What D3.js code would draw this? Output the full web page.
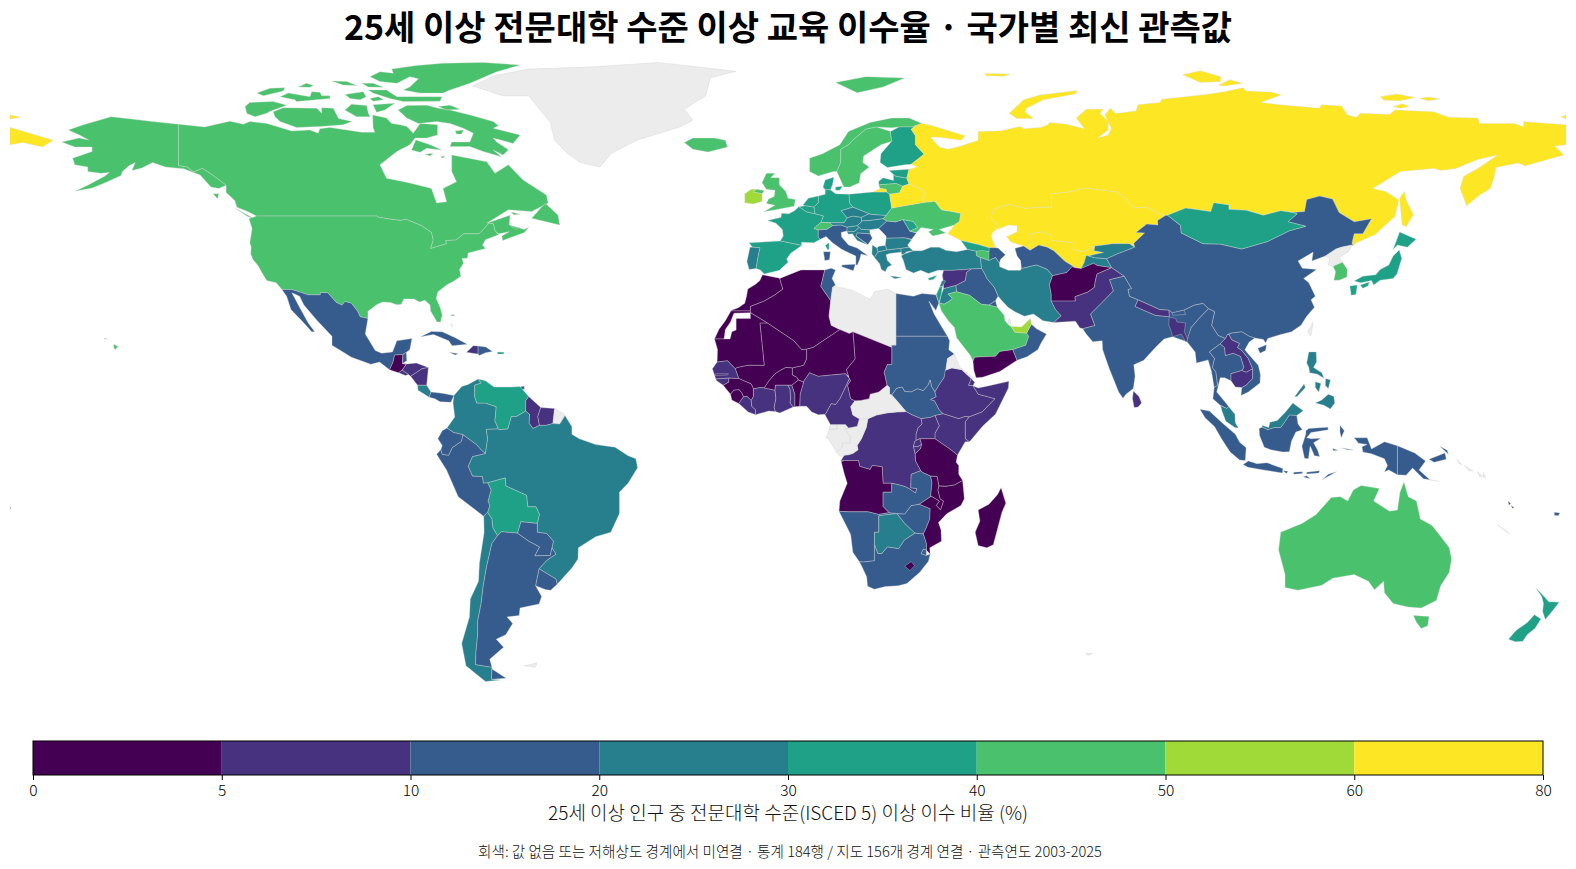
<!DOCTYPE html>
<html><head><meta charset="utf-8">
<script src="https://cdn.jsdelivr.net/npm/d3@7"></script>
<style>html,body{margin:0;padding:0;background:#fff}svg{display:block}text{font-family:"Noto Sans CJK KR","Noto Sans",sans-serif}</style>
</head><body><svg id="c" width="1576" height="869"></svg>
<script>
const titleText="25세 이상 전문대학 수준 이상 교육 이수율 · 국가별 최신 관측값";
const axisLabel="25세 이상 인구 중 전문대학 수준(ISCED 5) 이상 이수 비율 (%)";
const footText="회색: 값 없음 또는 저해상도 경계에서 미연결 · 통계 184행 / 지도 156개 경계 연결 · 관측연도 2003-2025";
const binTicks=[0,5,10,20,30,40,50,60,80];
const binColors=["#440154","#46327e","#365c8d","#277f8e","#1fa187","#4ac16d","#a0da39","#fde725"];
const noDataColor="#ececec";
const countryNames=[
"Greenland","Canada","USA","Iceland","Norway","Sweden","Finland","Denmark","Estonia","Latvia",
"Lithuania","Poland","Germany","Netherlands","Belgium","France","Spain","Portugal","Switzerland","Italy",
"Austria","Czechia","Slovakia","Hungary","Slovenia","Croatia","Bosnia","Romania","Moldova","Ukraine",
"Belarus","Russia","Kazakhstan","Uzbekistan","Turkmenistan","Kyrgyzstan","Tajikistan","Azerbaijan","Georgia","Armenia",
"Bulgaria","NMacedonia","Albania","Greece","UK","NIreland","Ireland","Cyprus","Turkey","Iran",
"Iraq","Syria","Jordan","Israel","Lebanon","SaudiArabia","Yemen","Oman","UAE","Qatar",
"Kuwait","Afghanistan","Pakistan","India","Nepal","Bhutan","Bangladesh","SriLanka","China","Mongolia",
"NKorea","SKorea","Japan","Taiwan","Myanmar","Thailand","Laos","Cambodia","Vietnam","Malaysia",
"Indonesia","Philippines","PNG","Solomon","Vanuatu","NewCaledonia","Fiji","Australia","NewZealand","Morocco",
"WSaharaStrip","Algeria","Tunisia","Libya","Egypt","Sudan","SouthSudan","Ethiopia","Eritrea","Djibouti",
"Somalia","Kenya","Uganda","Tanzania","Rwanda","Burundi","DRCongo","Congo","Gabon","EqGuinea",
"Cameroon","CAR","Chad","Niger","Nigeria","Mali","Mauritania","Senegal","Gambia","GuineaBissau",
"Guinea","SierraLeone","Liberia","CoteIvoire","BurkinaFaso","Ghana","Togo","Benin","Angola","Namibia",
"Botswana","Zimbabwe","Zambia","Malawi","Mozambique","SouthAfrica","Eswatini","Lesotho","Madagascar","Mexico",
"Guatemala","Belize","Honduras","ElSalvador","Nicaragua","CostaRica","Panama","Cuba","Jamaica","Haiti",
"DominicanRep","PuertoRico","Bahamas","Trinidad","Colombia","Venezuela","Guyana","Suriname","FrGuiana","Brazil",
"Uruguay","Paraguay","Bolivia","Peru","Ecuador","Chile","Argentina","Falkland","Kerguelen"];
const countryValues=[
null,47,47,45,45,45,38,35,35,35,
45,35,33,35,38,38,35,25,45,18,
28,25,25,27,28,25,15,16,32,45,
65,65,65,65,15,28,28,15,33,45,
26,25,25,27,45,45,55,35,24,25,
16,8,25,35,25,45,3,16,55,null,
18,3,8,15,8,15,9,8,17,35,
null,45,36,null,15,16,7,7,16,27,
15,28,15,null,8,null,12,45,35,4,
4,4,15,null,15,15,15,8,null,8,
8,8,8,3,8,8,7,null,null,null,
8,null,3,3,8,3,3,8,8,8,
3,3,7,7,3,8,7,3,3,15,
25,16,15,3,3,15,15,3,3,15,
3,15,8,8,8,25,15,15,15,8,
15,35,25,15,25,35,8,8,null,25,
15,15,35,15,15,25,15,null,null];
const countryShapes={
Greenland:"-73,78.2;-66,76;-60,76;-55,70;-54,66;-51,63;-48,61;-43.5,60;-41,63;-35,66;-25,69;-22,70.5;-24,73;-19,76;-18,80;-12,81.5;-30,83.5;-45,82.5;-60,82;-68,80.5",
Canada:"-141,69.6;-135,69;-129.1,70.3;-126,69.6;-124.5,70.2;-120.6,69.8;-114.8,68.1;-110.6,68.3;-108.7,67.6;-108.3,68.6;-106,68.9;-98.6,67.8;-95.6,67.8;-96,68.9;-96.1,71.7;-92.9,71;-91.7,69.8;-89.8,69.5;-88.2,69.1;-86.7,67.6;-85.1,69.8;-81.1,69.5;-81.1,67.2;-83.6,66.5;-86.3,66.5;-87.5,65;-90.5,63.5;-94.4,60.5;-92.9,57.5;-87.5,56.4;-82.5,55.2;-81.3,51.9;-79,52.2;-79.8,55.2;-76.7,56.7;-77.8,59;-77.8,62.7;-69.7,61.2;-67.8,58.6;-64.7,60.5;-61.3,57.1;-55.9,53.7;-55.5,51.9;-59.3,50;-64.7,50.4;-69.7,47.4;-64.3,49.2;-64.5,47;-61,46;-60,46.5;-61,45.3;-66,43.5;-66.2,44.5;-64.5,45.5;-67,45;-67.8,45.7;-68.2,47.3;-69.2,47.4;-70.3,46.2;-71.5,45;-75,45;-76.8,43.6;-79.2,43.5;-79,42.8;-82.7,41.7;-82.1,43.6;-82.5,45.3;-83.5,46;-84.9,46.9;-88.4,48.3;-89.6,48;-92,48.3;-94.6,48.7;-95.2,49;-123,49;-125,50;-127.5,51;-128,52.5;-130,54.3;-130,55.9;-133.4,58.4;-135.5,59.7;-137.5,58.9;-139,60;-141,60.3|-96.7,80.3;-94.4,81.4;-91.3,81.05;-91.7,82;-85.9,82.8;-79.8,83.3;-70.5,83.5;-62,82.9;-67.4,81.4;-73.6,78.8;-78.2,77.3;-79.8,76.6;-85.2,76.6;-89,77.3;-87.5,78;-85.5,79.8;-87.5,80.3;-90.5,78.8;-94.4,79.2|-97.1,77.3;-92.9,77.3;-90.5,75.8;-80.1,75.8;-80.5,74.8;-89,74.7;-92.1,75.4;-96,76.6|-122.9,76.6;-119.8,77.7;-116.4,77.8;-116.8,77.1;-121.4,76|-113.3,78;-111.4,78.8;-109.8,78.3;-110.6,77.9|-105.6,79.3;-102.1,79.2;-99.8,78.3;-102.9,78.4|-98.6,78.8;-96,78.8;-93.6,77.9;-97.1,78|-117.5,75.8;-115.6,76.6;-110.6,75.8;-110.2,76.9;-108.3,76.8;-107.9,76;-106,76;-106,75.4;-113.7,74.7;-114.1,75.1|-102.5,76.3;-98.3,76.9;-97.6,75.8;-99,75.1;-101.3,75.4|-96.7,75.4;-94.8,75.8;-93.6,75.1;-96,74.8|-125.6,73.6;-124.5,74.5;-119.1,74.7;-116,73.9;-119.8,72.5;-120.6,72.1;-123.3,71.3;-125.2,72|-119.1,72.4;-116.8,73.3;-109,73.2;-107.9,72.1;-107.9,73.3;-105.2,73.2;-104,70.9;-100.9,70.2;-102.9,69.5;-108.3,69.1;-113.7,68.9;-117.5,70.2;-118.7,71.3|-102.5,72.8;-101,74.1;-97.5,73.8;-97.1,72.1;-96.7,71.3;-99.8,71.3|-96,74;-91,74.3;-93.3,72.8;-95.2,72.3|-90.2,72.8;-88.2,73.8;-83.6,73.9;-80.9,73.2;-78.2,72.8;-73.6,71.7;-68.2,70.2;-67,69.3;-68.2,68.7;-62,67.2;-63.6,65.3;-68.2,66.5;-67.4,65.6;-64.7,63.9;-65.9,62.7;-68.2,63.8;-66.3,62.3;-70.5,63.5;-73.6,64.6;-78.2,64.6;-77.8,65.6;-73.6,65.6;-72.8,67.6;-75.1,68.7;-78.2,69.8;-81.3,70.2;-85.5,69.8;-88.2,71|-80.9,73.6;-78.2,73.9;-75.9,73;-79,72.8|-87.1,63.8;-86.1,66.1;-82.8,65;-80.1,63.8;-83.6,64.2;-85.1,63.3|-84,62.9;-82.1,63.1;-82.8,62.5|-80.4,62.3;-79.4,62.5;-79.8,62|-77,68.1;-75.1,68.3;-75.5,67.4;-76.7,67.4|-59.3,48.5;-56.2,51.9;-53.2,49.2;-52.8,47;-56.2,47.8|-128,50.8;-123.5,48.4;-125,48.9|-64,49.9;-62,49.4;-63.5,49.3|-64,46.6;-62,46.4;-63,46|-133,54;-131.7,54;-132,52.9",
USA:"-124.7,48.4;-123,49;-95.2,49;-94.6,48.7;-92,48.3;-89.6,48;-88.4,48.3;-84.9,46.9;-83.5,46;-82.5,45.3;-82.1,43.6;-82.7,41.7;-79,42.8;-79.2,43.5;-76.8,43.6;-75,45;-71.5,45;-70.3,46.2;-69.2,47.4;-68.2,47.3;-67.8,45.7;-67,44.8;-70,43.7;-70.7,42.5;-70,41.7;-74,40.7;-74.2,39.5;-75.4,39.5;-75.1,38.4;-76,37;-75.7,35.5;-77,34.6;-79,33.5;-81,32;-81.4,30.5;-80.5,28.5;-80,26.8;-80.4,25.2;-81.2,25.2;-81.8,26.2;-82.7,27.7;-82.8,29;-84,30.1;-85.3,29.7;-86.5,30.4;-88.9,30.4;-89.5,29.2;-90.5,29.1;-92,29.6;-93.8,29.7;-95,29.2;-97.2,27.6;-97.2,26;-99,26.4;-99.5,27.5;-101,29.4;-102.5,29.8;-103.2,29;-104.5,29.6;-106.5,31.8;-108.2,31.8;-108.2,31.3;-111,31.3;-114.8,32.5;-117.1,32.5;-118.4,34;-120.6,34.5;-121.9,36.6;-122.5,37.7;-123.8,39.3;-124.3,40.4;-124.2,42;-124.5,43;-124,46.2|-141,69.6;-141,60.3;-139,60;-137.5,58.9;-135.5,59.7;-133.4,58.4;-130,55.9;-131.7,55.2;-133.5,55.5;-136,58.2;-139.8,59.6;-144,60;-147,61;-149.5,59.8;-151.8,59.2;-151,61;-152.5,60.3;-154,59;-154.3,58.1;-158,56.5;-161,55.3;-164.8,54.6;-162,55.9;-158,58;-157,58.8;-159,58.6;-162,59;-162,60;-165,60.5;-165.5,62;-161,63.5;-161,64.5;-165,64.5;-168,65.6;-164,66.5;-161.8,66.1;-163.7,67.1;-166.5,68.3;-163,69.5;-156.6,71.3;-152,70.8;-147,70.2|-156,20.2;-155,19.7;-155.7,19;-156,19.6|-158.2,21.5;-157.7,21.3;-158,21.7",
Iceland:"-24,65.5;-22,64;-18.5,63.4;-14,64.5;-14.5,66;-17,66.5;-22,66.5",
Norway:"5,59;7,58;10.5,59;11.3,59;12.2,61;12.2,64;14,65;15,66;18,68.5;20.5,69;24,68.8;25.7,69;28.5,69;29.5,69.3;31,69.8;28,71;24,71;19,70;14,68;12,65;8,63;5,62|11,79;16,76.7;22,78;27,80;18,80.3",
Sweden:"11.3,59;12.9,55.5;14.3,55.5;16.5,56.5;16.8,58.5;18.8,60;17.3,61;17.5,62.5;21.5,65;24,65.8;23.7,68;20.5,69;18,68.5;15,66;14,65;12.2,64;12.2,61",
Finland:"24,65.8;21.5,63;21.3,61;23,59.9;27,60.5;28.5,60.6;31.5,62.9;29.5,65;29.5,67;28.5,68.5;29.5,69.3;28.5,69;25.7,69;23.7,68",
Denmark:"8.1,55.5;8.6,57.1;10.6,57.7;10.3,56;9.8,54.9;8.6,54.9|11,55.5;12.6,55.7;12,54.8;11,54.8",
Estonia:"23.4,59.2;28,59.5;27.5,57.5;25,57.9;24.4,58.3",
Latvia:"21,56.8;22,57.6;24.4,57;24.4,58.3;25,57.9;27.5,57.5;28,56.2;26.5,55.7;25,56.3;21,56",
Lithuania:"21,56;25,56.3;26.5,55.7;25.8,54.2;23.5,53.9;22.8,54.4;22.7,55;21.3,55.2",
Poland:"14.1,53.9;19.7,54.4;22.8,54.4;23.5,53.9;24,50.8;22.7,49.1;19,49.4;18.8,49.5;15,51;14.2,52",
Germany:"7,53.5;8.6,53.9;8.6,54.9;9.8,54.9;11,54;14.1,53.9;14.2,52;15,51;12.3,50.2;13.7,48.6;13,47.5;10,47.5;7.6,47.6;8.2,49;6.2,49.5;6,51;7,52",
Netherlands:"3.4,51.4;4.7,53;7,53.5;7,52;6,51;4,51.3",
Belgium:"2.5,51.1;4,51.3;6,51;6.2,49.5;4.3,49.9",
France:"2.5,51.1;4.3,49.9;6.2,49.5;8.2,49;7.6,47.6;6,46.2;7,45.9;7,44.2;7.5,43.8;6,43;3.1,43.1;3.2,42.4;-1.8,43.4;-1.1,44.5;-1.3,46;-2.8,47.4;-4.7,48;-1.6,48.7;-1.5,49.6;0.2,49.5;1.5,50.2|8.6,42.4;9.5,43;9.5,41.6;9.2,41.4",
Spain:"-9,43;-1.8,43.4;3.2,42.4;0.7,40.7;-0.3,39.4;0,38.6;-2,36.8;-5.5,36;-6.4,36.9;-7.4,37.2;-7,39.7;-6.5,41.9;-8.2,42",
Portugal:"-8.8,42;-8.2,42;-6.5,41.9;-7,39.7;-7.4,37.2;-9,37;-9.5,38.8",
Switzerland:"6,46.2;7.6,47.6;9.6,47.5;10.4,46.9;9,46;7,45.9",
Italy:"7,45.9;9,46;10.4,46.9;12.2,47;13.7,46.5;13.7,45.7;12.3,45.3;12.4,44.3;14,42.5;16,41.8;18.5,40.1;16.9,40.5;16.6,39.3;16,37.9;15.7,38.2;15.7,40;12.5,41.5;10.3,43;8.8,44.4;7.5,43.8;7,44.2|12.4,38;15.6,38.2;15.1,36.7;12.5,37.6|8.2,41;9.8,41;9.6,39.2;8.5,39",
Austria:"9.6,47.5;10,47.5;13,47.5;13.7,48.6;15,49;17,48.7;17,47.7;16,46.8;13.7,46.5;12.2,47;10.4,46.9",
Czechia:"12.3,50.2;15,51;18.8,49.5;17,48.7;15,49;13.7,48.6",
Slovakia:"17,48.7;18.8,49.5;19,49.4;22.7,49.1;22,48.4;19,48;17,47.9",
Hungary:"16,46.8;17,47.7;17,47.9;19,48;22,48.4;22.9,47.9;21,46.2;18.9,45.9;17,46",
Slovenia:"13.7,46.5;16,46.8;16.5,46.4;15.3,45.5;13.6,45.5",
Croatia:"13.6,45.5;15.3,45.5;16.5,46.4;17,46;18.9,45.9;19,45;16,45.2;15.8,44.5;18.5,42.5;16,43.5;14.9,45;14,44.9",
Bosnia:"16,45.2;19,45;19.5,44;18.5,42.6;15.8,44.5",
Romania:"21,46.2;22.9,47.9;24.9,47.7;26.6,48.2;28.2,45.6;29.7,45.2;28.6,43.8;27,44.1;22.7,44;22.7,44.5",
Moldova:"26.6,48.2;29,47.8;30,46.4;28.2,45.6",
Ukraine:"24,50.8;31,52;31.8,52.1;34,52.3;35.5,50.4;38,50;40,49.6;39.7,47.8;38.5,47;35,46;36.5,45.2;33.5,44.5;32.5,45.5;33.6,46;30.8,46.4;29.7,45.3;28.2,45.6;30,46.4;29,47.8;26.6,48.2;24.9,47.7;22.9,47.9;22,48.4;22.7,49.1",
Belarus:"23.5,53.9;25.8,54.2;26.5,55.7;28,56.2;31,55;32,53.8;31,53;31.8,52.1;31,52;24,50.8",
Russia:"31,69.8;33,69.4;41,67;40,66;35,66.7;33,66.7;35,64.5;37,64;40,64.7;44,66;44,68;49.06,68.1;53.7,69.1;54.6,68.6;58.4,68.9;60.1,69.5;60.5,70;64.4,69.6;68.6,68.6;66.7,71;69,73;72.9,73;72.2,72;74.1,70.2;74.1,68.3;71.6,66.5;74.1,67.2;74.8,68.7;73.3,71.7;74.6,73.2;75.8,72;80.5,72.6;81,74;86,74.5;86.5,75.2;96.7,76.3;100.9,76.9;105.2,77.8;106,77.1;112,76.8;114.1,76.2;109.4,74.5;113.7,74;123,73.2;123.4,74;128.1,73.7;129.4,71.7;131.5,71.2;132.4,72.1;139.2,71.8;140.4,72.8;149.4,72.4;152.8,71.2;159.6,71;160,69.8;168.1,69.8;170.2,69;170.2,70.2;180,69.5;180,65;177.4,64.7;179.5,62.7;170.6,60.3;168.9,60.9;163.8,59.9;163.4,57.9;162.5,55.2;160,53.7;157,51.3;155.5,55.2;156.3,57.9;159.6,59.7;164.2,62.7;159.6,61.7;154.5,59.7;151.1,59.2;149.4,59.7;141.7,59;135.3,55.2;138.3,54.5;141.3,52.6;140.4,48.9;135.8,44.8;131.5,43;130.7,42.3;130.5,43;131,45;133,45;135,48.4;131,47.7;127.5,49.8;126,52.8;123,53.5;120,52.7;119.5,50;116.7,49.8;114,50.2;110,49.2;106,50.3;102,50.5;102,51.5;98.5,52;97.8,50;92,50.8;87.8,49.2;87.3,49.1;85.5,49.6;83,51;80,50.8;77.8,53.3;76,54.4;71,55;69,55.3;65,54.4;61,54;61,51;58,51;55,50.7;51,51.6;47.5,50.5;47,48.5;49,46.5;47.5,45.5;47,44.5;48,41.9;46.5,41.9;44,42.6;40,43.5;37,45;38.5,47;39.7,47.8;40,49.6;38,50;35.5,50.4;34,52.3;31.8,52.1;31,53;32,53.8;31,55;28,56.2;27.5,57.5;28,59.5;30,60;28.5,60.6;31.5,62.9;29.5,65;29.5,67;28.5,68.5;29.5,69.3|-180,68.9;-177.5,68.2;-170,66;-172.5,64.5;-177,65.5;-180,65|-180,71.7;-177.5,71.2;-180,70.8|178.9,71.3;180,71.7;180,70.8|19.7,54.4;22.8,54.4;22.7,55;21.3,55.2|142.6,54.5;143,52.6;144.7,49.3;143,46.6;142.1,47;141.7,51;141.5,53|51.2,72.1;54.5,75.1;58.3,76.2;67,77.2;66.4,76.4;59.1,75.1;55.2,73.2;54.8,72.4;56.8,70.9;52.9,70.9|91.3,80.7;95.4,81.6;100.1,80.3;100.1,79.2;95.4,79|99.6,78.4;102.2,79.6;105.2,78.8;100.9,78.2|137,75.8;140.9,76.4;145.1,75.6;141.7,74.9;137.9,75|146.1,75.4;148.1,75.7;150.8,75.3;148.1,74.9|140,73.6;142.1,74.2;143.8,73.6;141.7,73.2|45.5,81;51.4,80.9;50,80.4;46,80.5",
Kazakhstan:"87.3,49.1;85.5,49.6;83,51;80,50.8;77.8,53.3;76,54.4;71,55;69,55.3;65,54.4;61,54;61,51;58,51;55,50.7;51,51.6;47.5,50.5;47,48.5;49,46.5;48.5,46;51,47;53,46.8;53,45.5;51,44.5;50.5,44.5;51.5,43.2;52.8,42.8;54.5,42.3;56,41.3;56,45;59,45.5;61,44.5;61,43.5;66,43;66,41.5;68,41;69,41.3;71,42.3;73,42.5;75,42.8;79,42.8;80.2,42;80,42.9;82.5,45.2;80.5,45.3;83,47.2;85.6,47;85.5,48",
Uzbekistan:"56,45;59,45.5;61,44.5;61,43.5;66,43;66,41.5;68,41;69,41.3;71,42.3;70.8,41.2;73,40.8;71,40.4;69.5,40;69,40.2;68.5,38.5;67.8,37.2;66.5,37.4;64,38.9;61.5,41.2;60,42;58,42.5;56,41.3",
Turkmenistan:"52.5,41.7;53,40;53.8,39;54,37.2;57.5,38;60,37;61.2,35.6;64.5,36.3;65.7,37.6;66.5,37.4;64,38.9;61.5,41.2;60,42;58,42.5;56,41.3;54.5,42.3;52.8,41.8",
Kyrgyzstan:"71,42.3;73,42.5;75,42.8;79,42.8;80.2,42;76,40.4;73.7,39.4;71,39.6;69.5,40;71,40.4;73,40.8;70.8,41.2",
Tajikistan:"69,40.2;69.5,40;71,39.6;73.7,39.4;74.9,37.4;71.5,37.9;70.7,38.4;67.8,37.2;68.5,38.5",
Azerbaijan:"46.5,41.9;48,41.9;48.6,41.8;50.3,40.3;49.2,39.3;48.9,38.4;48,39.7;46.5,39;45,40;46.5,41",
Georgia:"40,43.5;44,42.6;46.5,41.9;46.5,41;43.5,41.1;41.5,41.5",
Armenia:"43.5,41.1;45,41.3;46.5,41;46.5,39;44.5,39.7;43.6,40.1",
Bulgaria:"22.7,44;27,44.1;28.6,43.7;27.7,42.5;28,42;26.1,41.7;24,41.5;22.9,41.4;22.5,42.4",
NMacedonia:"21,42.2;22.5,42.4;22.9,41.4;20.8,40.9;20.6,41.8",
Albania:"19.5,42.5;20.6,41.8;20.8,40.9;20,39.7;19.4,40.5",
Greece:"20,39.7;20.8,40.9;22.9,41.4;24,41.5;26.1,41.7;26.3,40.9;23.5,40.6;22.7,40.3;23,39;24,38;23,37.5;22.5,36.5;21.6,37;21.2,38.3|23.6,35.6;26.3,35.2;24.7,34.9",
UK:"-5.5,50;-3.5,50.3;1.4,51.2;1.7,52.7;0,53;-0.5,54.5;-2,56;-2,57.6;-4,57.6;-3,58.6;-5,58.6;-6,56.5;-5,55;-3,54.8;-3.2,53.4;-4.5,52.8;-5,51.8;-3,51.4",
NIreland:"-7.3,55;-5.5,54.7;-6,54;-8,54.4",
Ireland:"-10,52;-10,54;-8.5,55;-7.3,55;-8,54.4;-6,54;-6,52.3;-8,51.7",
Cyprus:"32.3,35;34.5,35.7;33.7,34.8;32.8,34.6",
Turkey:"26.2,40;26.7,39;27.3,37;29,36.2;30.7,36.8;32.5,36.1;34.7,36.8;36,36.8;38,36.8;42.4,37.1;44.8,37.2;44.5,39.7;43.6,40.1;43.5,41.1;41.5,41.5;39,41;36.5,41.3;35,42;33,42;31,41.2;29,41.2;27.5,41|26.3,40.3;26.1,41.7;28,42;29,41.2",
Iran:"44.5,39.7;44.8,37.2;45.5,36;46,35;47.7,33;48.6,31;49.5,30;50.9,28.5;52.5,27.5;54.7,26.5;56.8,27;59,25.5;61.5,25.1;63.2,26.6;61.9,28;60.9,29.9;60.9,31.5;60.5,33.6;61.2,35.6;60,37;57.5,38;54,37.2;53.8,36.8;51,36.8;49,37.6;48.9,38.4;48,39.7;46.5,39",
Iraq:"39,32;42,31.2;44.7,29.2;46.5,29;48,30;48.6,31;47.7,33;46,35;45.5,36;44.8,37.2;42.4,37.1;41.3,36.4;41,34.5;38.8,33.4",
Syria:"35.7,35.7;36,36.8;38,36.8;42.4,37.1;41.3,36.4;41,34.5;38.8,33.4;36,32.7;35.9,34.5",
Jordan:"35,29.5;36.1,29.2;37.5,30;38,30.5;37,31.5;39,32;38.8,33.4;36,32.7;35.5,31.5",
Israel:"34.3,31.3;34.9,29.5;35.5,31.5;35.7,33.2;35.1,33.1",
Lebanon:"35.1,33.1;35.7,33.2;36.5,34.4;36,34.6;35.6,34.4",
SaudiArabia:"34.9,29.5;36.1,29.2;37.5,30;38,30.5;37,31.5;39,32;42,31.2;44.7,29.2;46.5,29;48.4,28.6;50,26.7;50.2,25.5;51,24.6;51.6,24.2;52.5,22.9;55.2,22.7;55.7,22;55,20;52,19;49,18.6;48,17.5;45.3,17.4;43.2,17.3;42.8,16.4;42.2,17.7;40.5,19.8;39,21.7;38.5,24;37,25.6;35.5,27.7",
Yemen:"42.8,16.4;43.2,17.3;45.3,17.4;48,17.5;49,18.6;52,19;53,16.6;49,14.1;45,12.8;43.5,12.7;43,14.4",
Oman:"52,19;55,20;55.7,22;55.2,22.7;56.3,24.7;57.5,23.7;59.8,22.5;58.5,20.4;57.8,19;55.3,17.4;53,16.6",
UAE:"51.6,24.2;54,24.1;56.1,26;56.3,24.7;55.2,22.7;52.5,22.9",
Qatar:"50.8,24.8;51.2,26.1;51.6,25;51.2,24.5",
Kuwait:"46.5,29;48,30;48.4,28.6",
Afghanistan:"61.2,35.6;60.5,33.6;60.9,31.5;60.9,29.9;66.5,29.9;66.4,30.9;69.3,31.9;70.9,33;71.1,34.4;71.5,36;74.9,37.4;71.5,37.9;70.7,38.4;67.8,37.2;66.5,37.4;65.7,37.6;64.5,36.3",
Pakistan:"61.5,25.1;66.5,25.4;67.5,23.9;68.2,23.7;71,24.4;70,27;73,29.9;75.3,32.2;74.4,34.7;77.8,35.5;74.9,37.4;71.5,36;71.1,34.4;70.9,33;69.3,31.9;66.4,30.9;66.5,29.9;60.9,29.9;61.9,28;63.2,26.6",
India:"68.2,23.7;69,22.5;70.5,20.8;72.7,21;72.8,19;74.3,14.8;76.5,9.5;77.5,8.1;78.2,9;79.9,10.3;80.3,13;80,15.6;82.3,16.6;85,19.5;87,21.4;89,21.9;92.3,20.8;93.3,24;95,25.9;97.3,28.2;96,29.4;94,29;91.6,27.9;88.9,27.3;88.1,27.9;88.2,26.4;85,26.7;80.3,28.7;81,30.2;79,31;78.7,32.5;79.5,32.7;77.8,35.5;74.4,34.7;75.3,32.2;73,29.9;70,27;71,24.4",
Nepal:"80.3,28.7;81,30.2;84,28.9;86,28;88.1,27.9;88.2,26.4;85,26.7",
Bhutan:"88.9,27.3;91.6,27.9;92,26.9;89,26.7",
Bangladesh:"88.1,24.5;88.2,26.3;89.7,26;90,25.2;92,25;91.7,23;92.6,21;92,20.8;91,22.5;89,21.9;88.7,23",
SriLanka:"79.9,9.7;81.2,8.5;81.8,7;81,6.1;80.1,6;79.7,8",
China:"73.7,39.4;74.9,37.4;77.8,35.5;79.5,32.7;78.7,32.5;79,31;81,30.2;84,28.9;86,28;88.1,27.9;88.9,27.3;91.6,27.9;94,29;96,29.4;97.3,28.2;98.7,27.5;98,24.5;99.5,22.2;101.2,21.5;101.7,22.4;102.5,22.7;105,23;106.7,22;108,21.6;110,21.3;110.5,20.5;111,21.5;114,22.4;116.5,23;118.7,24.5;120,26.5;121.8,28.5;121,30.2;122,31;120.5,34;119.3,35;122.3,37;119,37.3;118,38.9;121.5,40.9;121.2,38.9;124.3,40;126.8,41.6;128,42;130.5,42.5;130.7,42.3;130.5,43;131,45;133,45;135,48.4;131,47.7;127.5,49.8;126,52.8;123,53.5;120,52.7;119.5,50;116.7,49.8;117.8,49.5;116,48;115.7,47.7;119.8,46.7;116,45.7;111.8,43.7;111,43.3;105,41.6;100,42.7;96,42.8;91,45.2;90.8,46.9;87.8,49.2;87.3,49.1;85.5,48;85.6,47;83,47.2;80.5,45.3;82.5,45.2;80,42.9;80.2,42;76,40.4|108.7,19.3;110.7,20.1;110.5,18.8;109.2,18.2",
Mongolia:"87.8,49.2;92,50.8;97.8,50;98.5,52;102,51.5;102,50.5;106,50.3;110,49.2;114,50.2;116.7,49.8;117.8,49.5;116,48;115.7,47.7;119.8,46.7;116,45.7;111.8,43.7;111,43.3;105,41.6;100,42.7;96,42.8;91,45.2;90.8,46.9",
NKorea:"124.3,40;126.8,41.6;128,42;130.5,42.5;129.7,41;127.5,39.7;128.3,38.6;126.1,37.7;125,38;125.3,39.5",
SKorea:"126.1,37.7;128.3,38.6;129.4,37;129.3,35.3;127.5,34.6;126.3,34.6;126.7,36.5",
Japan:"131,34.4;133,35.5;136,35.8;137,37;139,38;140,40;141.4,41.4;142,39.5;140.9,36;140,35;137,34.6;135.5,33.5;135,34.5;132.5,34|140,41.5;141.5,45.4;145.3,43.8;143.3,42;141,42.5|130,33.3;131.7,33.5;131.4,31.4;130.3,31.2|132.4,33.5;134.5,34.2;134.2,33.3;133,32.8",
Taiwan:"121.5,25.2;121,22;120.2,23",
Myanmar:"92.3,20.8;94.2,18.5;94.5,16;97.2,16.7;98,14;98.6,10.5;99.4,11;99,14;98.2,15;98.7,17;97.5,18.5;100,20.3;101.2,21.5;99.5,22.2;98,24.5;98.7,27.5;97.3,28.2;95,25.9;93.3,24;92.6,22",
Thailand:"97.5,18.5;98.7,17;98.2,15;99,14;99.4,11;98.6,10.5;98.3,8;100,6.5;101.5,5.8;102,6.2;100.5,8;99.2,9.5;100,12.7;101,12.7;102.5,12;102.5,13.6;105,14.3;105.5,15;104.7,17.5;103,18.2;101.2,17.7;101,19.5;100,20.3",
Laos:"100,20.3;101,19.5;101.2,17.7;103,18.2;104.7,17.5;105.5,15;105,14.3;106,13.9;107.5,14.7;106.5,17;105,18.8;104,19.5;104.5,20.4;102.7,21.2;102,22.4;101.7,22.4;101.2,21.5",
Cambodia:"102.5,12;102.5,13.6;105,14.3;106,13.9;107.5,14.7;107.5,12.5;106,11;105,10.5;103.5,10.6",
Vietnam:"102,22.4;102.7,21.2;104.5,20.4;104,19.5;105,18.8;106.5,17;107.5,14.7;107.5,12.5;106,11;105,10.5;104.8,8.7;106.5,9.5;109.2,11.5;109.3,13.5;108.8,15.5;106.5,18;105.7,19;106.7,20.7;108,21.6;106.7,22;105,23;102.5,22.7",
Malaysia:"100.1,6.4;101.5,5.8;102,6.2;103.4,4.5;103.5,2.6;104.2,1.4;103.4,1.5;101.3,2.9;100.4,5.2|109.7,2;111.2,1.5;111.5,2.7;113.2,3.1;115,4.9;116.8,7;119.2,5.3;117.7,4.2;116,4.3;115,2.8;114,1.5;112.5,1.5;111,1;109.7,1.6",
Indonesia:"109,1.3;109.7,1.6;111,1;112.5,1.5;114,1.5;115,2.8;116,4.3;117.7,4.2;118,2.3;119,1;117.5,0.5;116.5,-1.5;116,-3.9;114.5,-4;111.7,-3.5;110.2,-2.9;109.1,-0.3|95.3,5.6;97.5,5.2;100.3,2.7;103.5,0;104.5,-1.8;106,-3;105.8,-5.9;104.5,-5.8;102.3,-4;100.3,-1;98.7,1.7;96.5,3.7|105.3,-6.8;106.5,-6;108.5,-6.6;110.8,-6.4;114.5,-7.7;114.4,-8.7;110,-8;106.4,-7.4|119.8,0.8;120.5,1.3;124.9,1.6;125,1;121,0.4;120,-0.8;121,-1;123.3,-0.9;121.6,-1.9;122.5,-3.5;123,-5;121.8,-4.8;121,-3;120.8,-2.7;120.4,-5.5;119.5,-5.4;118.9,-2.7;119.8,0|124,-10;126.9,-8.4;125,-9;123.5,-10.3|120,-8.5;123,-8.2;122.8,-8.7;120,-8.9|117,-8.5;119,-8.4;119,-8.8;117,-9|114.5,-8.2;115.7,-8.3;115.3,-8.8|119.2,-9.6;120.8,-10;120,-9.3|127.7,2;128.7,0.8;128,-0.8;127.7,0.5|128,-3.1;130.8,-3.5;129.5,-3.5|126,-3.2;127.2,-3.6;126.2,-3.7|131,-0.8;134,-0.8;135,-3.3;138,-1.7;141,-2.6;141,-9.1;139,-8;138,-8.4;138.7,-7;138,-5.5;135,-4.4;133,-4;132.8,-2.8;134,-2.3;132,-2",
Philippines:"120.5,18.5;122.2,18.5;122.3,16.3;121.6,15;123.5,13.8;124,12.6;122.5,13.5;120.7,13.8;120.5,15;120,16|122,7;123.5,7.7;125,9;126.3,8.5;126.5,7;125.5,5.7;124,6.5|117.2,8.4;119.4,11.3;119.7,10.5;117.8,8.5|122,11.8;123.3,11.4;122.8,9.5;122,10.5|124.4,12.5;125.5,12.2;125,10.2;124.3,11",
PNG:"141,-2.6;145,-4.2;147.5,-6;146,-8;148.5,-10.2;150.8,-10.6;147,-10;144.5,-7.6;143,-9.2;141,-9.1|148.3,-5.6;152,-4.2;152.3,-5.6;149.5,-6.3|150.8,-2.7;152.8,-4.5;152.5,-3.6",
Solomon:"154.7,-5.5;155.9,-6.8;155.2,-6.5|156.5,-7;158.5,-8.2;157.5,-8.2|159.5,-8.4;161,-9.6;160,-9.5|160.8,-8.6;161.5,-9.8;161,-9.6",
Vanuatu:"166.6,-15;167.2,-15.6;166.8,-15.9|167.3,-16;168,-16.5;167.6,-16.6",
NewCaledonia:"164,-20.2;167,-22.3;166,-21.8",
Fiji:"177.3,-17.5;178.6,-17.7;178.2,-18.3;177.3,-18.2|-180,-16.2;-179.8,-16.7;-180,-16.8",
Australia:"114,-22;113.5,-26;115,-31.5;115,-34.4;118,-35;123.5,-33.9;126,-32.3;131,-31.5;134.3,-33;135.7,-34.9;137.8,-33;138,-35.6;140,-38;143.5,-38.8;146.5,-39;150,-37.3;151,-34;153,-31;153.5,-28;153,-25.5;150.8,-22.7;149,-20.5;146.3,-19;145.4,-15;143.5,-14;142.5,-10.7;141.6,-13;141,-17;139.2,-17.3;135.5,-15;136.8,-12.2;132.6,-11.5;130.8,-12.5;129.5,-15;127.8,-14;125.7,-14.2;122.2,-18;119,-20|144.7,-40.7;148.3,-40.9;148,-43;146.5,-43.6;145.4,-42.2",
NewZealand:"172.7,-40.5;174.2,-41.5;172.8,-43.6;171,-45;170,-46.5;168.3,-46.6;166.7,-46;168.5,-44;171,-42.3|173,-34.5;175,-36.5;176,-37.6;178.4,-37.7;177,-39.5;175.2,-41.6;174.6,-39.8;174.8,-38;174.4,-36.5",
Morocco:"-5.9,35.8;-2.2,35.1;-1.9,35;-1.2,32.6;-3,31.3;-5.5,29.9;-8.7,28.7;-8.7,27.7;-13.2,27.7;-12.9,27.9;-11.5,28.4;-10,29.4;-9.6,31;-9.3,32.6;-7.5,33.7;-6.5,34.5",
WSaharaStrip:"-13.2,27.7;-8.7,27.7;-8.7,27.3;-12.5,27.2;-13.3,25.2;-14.5,23.5;-14.8,21.4;-17,21.4;-16,23.5;-14.5,25.5",
Algeria:"-1.9,35;-1.2,32.6;-3,31.3;-5.5,29.9;-8.7,28.7;-8.7,27.3;-4.8,25;1.2,21.1;3.2,19;4.3,19.1;5.8,19.5;12,23.5;10,24.5;9.5,26.5;9.9,30;7.6,33.2;8.5,36.9;3,36.9",
Tunisia:"8.5,36.9;10,37.3;11,36.9;10.2,35;11,33.5;10.3,33;9.9,30;7.6,33.2",
Libya:"9.9,30;10.3,33;11.5,33.1;15,32.3;19,30.3;20,32;23,32.6;25,31.6;25,22;25,20;24,20;24,19.5;15,23;14.2,22.6;12,23.5;10,24.5;9.5,26.5",
Egypt:"25,31.6;29,31;31,31.6;34.2,31.3;34.9,29.5;34.2,27.8;32.6,29.9;33.8,27;35.7,23.9;36.9,22;25,22",
Sudan:"25,22;36.9,22;37.4,21;37.2,19;38.5,18;36.9,17;36.5,14.3;36.1,12.7;34.9,11;34,9.5;33.2,10.7;32.9,12.2;32.4,11;31.3,9.8;30,10.2;28.5,9.5;27,9.6;26.4,10.6;25.1,10.3;24,8.8;23.5,9;23.5,10.5;22.9,11;22.4,13.2;22.2,13.9;23,15.7;24,15.7;24,20;25,20",
SouthSudan:"34,9.5;33.2,10.7;32.9,12.2;32.4,11;31.3,9.8;30,10.2;28.5,9.5;27,9.6;26.4,10.6;25.1,10.3;24,8.8;25.2,7.5;27.3,5.1;28.6,4.4;30.8,3.5;33,3.8;34,4.2;35.9,4.6;35,5.5;33.9,7.5;33,7.8;34.3,8.4",
Ethiopia:"36.4,14.4;37.9,14.9;40.2,14.5;42.4,12.5;41.8,11;42.8,10.9;44,9;47.9,8;44.9,5;41.9,3.9;41,4;39.5,3.5;35.9,4.6;35,5.5;33.9,7.5;33,7.8;34.3,8.4;34,9.5;34.9,11;36.1,12.7",
Eritrea:"36.4,14.4;36.5,14.3;36.9,17;38.5,18;39.7,15.1;43,12.6;42.4,12.5;40.2,14.5;37.9,14.9",
Djibouti:"41.8,11;42.4,12.5;43.2,11.7;42.8,10.9",
Somalia:"42.8,10.9;44,10.4;46,10.8;51.1,11.9;51,10.4;48,4.5;45,1.8;42,-1.7;41,-1;41,2.8;41.9,3.9;44.9,5;47.9,8;44,9",
Kenya:"41,-1;42,-1.7;41,-1.7;39.2,-4.7;37.7,-3.5;34,-1;34,0.2;35,1.9;34,4.2;35.9,4.6;39.5,3.5;41,4;41.9,3.9;41,2.8",
Uganda:"34,-1;30.5,-1;29.6,-1.4;29.6,0;30.1,1.5;31,2.3;30.8,3.5;33,3.8;34,4.2;35,1.9;34,0.2",
Tanzania:"30.5,-1;34,-1;37.7,-3.5;39.2,-4.7;38.9,-6.3;39.5,-7;39.5,-9;40.4,-10.4;38.5,-11.4;36.5,-11.7;34.9,-11.6;34.5,-9.5;33,-9.4;31.2,-8.6;30.7,-8.2;29.5,-6;29.4,-4.4;30.6,-3.3;30.9,-2.3",
Rwanda:"29.6,-1.4;30.5,-1;30.9,-2.3;30,-2.8;29,-2.7;29.3,-1.6",
Burundi:"30,-2.8;30.9,-2.3;30.6,-3.3;29.4,-4.4;29,-2.7",
DRCongo:"12.2,-6;13.1,-5.9;16.3,-5.9;16.6,-7.2;19,-7.9;19.5,-7;21.8,-7.3;21.9,-9.5;22,-11;24,-11;25.4,-11.3;27,-11.7;28,-12.2;29.5,-13.2;29.8,-12.2;28.4,-12;28.5,-9;30.7,-8.2;29.5,-6;29.4,-4.4;29,-2.7;29.3,-1.6;29.6,-1.4;29.6,0;30.1,1.5;31,2.3;30.8,3.5;28.6,4.4;27.3,5.1;25.2,5;22.9,4.8;20.5,4.3;18.5,3.5;18.1,1.5;17,-1;16,-2.5;16.2,-3.5;15,-4.3;14,-4.6;13,-4.7",
Congo:"11.2,-4;12,-5;13,-4.7;14,-4.6;15,-4.3;16.2,-3.5;16,-2.5;17,-1;18.1,1.5;18.5,3.5;16.5,3.5;16,1.8;14,1.4;13.2,1.2;14.4,-0.5;14.4,-2;12.5,-1.9;12.5,-3",
Gabon:"9.3,-1;8.8,-0.7;9.5,0.9;9.8,1.1;11.3,1.1;11.3,2.2;13.3,2.2;14,1.4;13.2,1.2;14.4,-0.5;14.4,-2;12.5,-1.9;12.5,-3;11.2,-4",
EqGuinea:"9.5,1;9.8,2.2;11.3,2.2;11.3,1.1;9.8,1.1",
Cameroon:"8.5,4.5;9.8,2.2;11.3,2.2;13.3,2.2;14,1.4;16,1.8;16.5,3.5;15,4.3;14.5,6.2;15.5,7.5;14.5,8;13.8,11;14.5,12;14.2,12.5;13,10;12,8;11,6.7;10,6.9;8.7,4.6",
CAR:"14.5,6.2;15,4.3;16.5,3.5;18.5,3.5;20.5,4.3;22.9,4.8;25.2,5;27.3,5.1;25.2,7.5;24,8.8;23.5,9;23.5,10.5;22.9,11;21,9.5;19,9;18.8,8;16.8,7.6;15.5,7.5",
Chad:"14,13;13.5,14.5;15.5,16.9;15.2,21;15,23;24,19.5;24,15.7;23,15.7;22.2,13.9;22.4,13.2;22.9,11;21,9.5;19,9;18.8,8;16.8,7.6;15.5,7.5;14.5,8;13.8,11;14.5,12;14.2,12.5",
Niger:"15,23;15.2,21;15.5,16.9;13.5,14.5;14,13;13.3,13.6;10,13.3;7,13;5,13.8;3.7,12;3.6,11.7;2.4,12.2;2,12.8;1,13.3;1,14.9;3.6,15.5;4.3,16.9;4.3,19.1;5.8,19.5;12,23.5;14.2,22.6",
Nigeria:"2.7,6.3;2.8,9;3.6,11.7;3.7,12;5,13.8;7,13;10,13.3;13.3,13.6;14.2,12.5;13,10;12,8;11,6.7;10,6.9;8.7,4.6;8.5,4.5;7,4.4;5.5,5;4.3,6.3",
Mali:"-4.8,25;-6.5,25;-5.5,15.5;-9.3,15.5;-11.8,15;-12.2,14.7;-11.4,12.5;-8.5,11.3;-8,10.2;-6.3,10.5;-5.5,10.4;-4.4,12;-3,13.6;-2,14.2;-0.5,15;1,14.9;3.6,15.5;4.3,16.9;4.3,19.1;3.2,19;1.2,21.1",
Mauritania:"-17,21.4;-13.4,21.4;-13,23;-12,23.4;-12,26;-8.7,26;-8.7,27.3;-4.8,25;-6.5,25;-5.5,15.5;-9.3,15.5;-11.8,15;-12.2,14.7;-14,16.5;-16.4,16.2;-16.3,19",
Senegal:"-16.4,16.2;-14,16.5;-12.2,14.7;-11.4,12.5;-13.7,12.6;-16.7,12.4;-17.5,14.7",
Gambia:"-16.8,13.6;-13.8,13.6;-14,13.3;-16.8,13.2",
GuineaBissau:"-16.7,12.4;-13.7,12.6;-13.7,11.7;-15,11;-16.5,12",
Guinea:"-13.7,12.6;-11.4,12.5;-8.5,11.3;-8,10.2;-8,8.5;-8.5,7.6;-9.5,8.5;-10.3,8.4;-10.7,9.3;-11.3,10;-12.5,9.9;-13.3,9;-15,11;-13.7,11.7",
SierraLeone:"-13.3,9;-12.5,9.9;-11.3,10;-10.7,9.3;-10.3,8.4;-11.4,6.9;-13,7.7",
Liberia:"-11.4,6.9;-10.3,8.4;-9.5,8.5;-8.5,7.6;-8.4,6.3;-7.5,5.5;-7.5,4.4;-9.2,5",
CoteIvoire:"-8.5,7.6;-8,8.5;-8,10.2;-6.3,10.5;-5.5,10.4;-3,9.9;-2.8,8;-3.2,6;-2.9,5.1;-4.5,5.2;-7.5,4.4;-7.5,5.5;-8.4,6.3",
BurkinaFaso:"-5.5,10.4;-4.4,12;-3,13.6;-2,14.2;-0.5,15;1,14.9;1,13.3;2,12.8;2.4,12.2;0.9,11;-2.9,11;-3,9.9",
Ghana:"-3,9.9;-2.9,11;0,11;0.5,10;0.6,8.2;0.5,7;1.2,6.1;-1.9,4.8;-2.9,5.1;-3.2,6;-2.8,8",
Togo:"0,11;0.9,11;1.6,9;1.6,6.2;1.2,6.1;0.5,7;0.6,8.2;0.5,10",
Benin:"0.9,11;2.4,12.2;3.6,11.7;2.8,9;2.7,6.3;1.6,6.2;1.6,9",
Angola:"12.3,-6.1;13.1,-5.9;16.3,-5.9;16.6,-7.2;19,-7.9;19.5,-7;21.8,-7.3;21.9,-9.5;22,-11;24,-11;24,-13;22,-13;22,-16.2;23.4,-17.6;21,-18;18.5,-17.4;14,-17.4;11.8,-17.3;12,-15;13.7,-11;13,-8.8",
Namibia:"11.8,-17.3;14,-17.4;18.5,-17.4;21,-18;23.4,-17.6;25.2,-17.8;23.3,-18;21,-18.3;21,-22;20,-22;20,-28.4;17.4,-28.7;16.5,-28.6;15,-26.5;14.5,-22.5",
Botswana:"20,-22;21,-22;21,-18.3;23.3,-18;25.2,-17.8;27,-20;29.4,-22.2;27,-23.7;25.6,-25.7;23,-25.3;21.7,-26.8;20.8,-26.8;20,-24.8",
Zimbabwe:"25.2,-17.8;27,-17.9;28.5,-16;30.4,-15.7;32.9,-16.7;32.8,-19;32,-21;31.3,-22.4;29.4,-22.2;27,-20",
Zambia:"22,-13;24,-13;24,-11;25.4,-11.3;27,-11.7;28,-12.2;29.5,-13.2;29.8,-12.2;28.4,-12;28.5,-9;30.7,-8.2;31.2,-8.6;33,-9.4;33.3,-10.8;33,-14;30.4,-15.7;28.5,-16;27,-17.9;25.2,-17.8;23.4,-17.6;22,-16.2",
Malawi:"33,-9.4;34.5,-9.5;34.9,-11.6;34.7,-12.5;35.2,-14.5;36,-15;35.3,-17;34.3,-16;35,-15;33.3,-14;33,-14;33.3,-10.8",
Mozambique:"40.4,-10.4;38.5,-11.4;36.5,-11.7;34.9,-11.6;34.7,-12.5;35.2,-14.5;36,-15;35.3,-17;34.3,-16;35,-15;33.3,-14;33,-14;30.4,-15.7;32.9,-16.7;32.8,-19;32,-21;31.3,-22.4;32,-24.5;32,-26;32.9,-26.9;32.8,-25.5;35.5,-24;35.4,-21.5;34.8,-19.8;36.8,-17.8;40,-16;40.8,-14.5",
SouthAfrica:"16.5,-28.6;17.4,-28.7;20,-28.4;20,-24.8;20.8,-26.8;21.7,-26.8;23,-25.3;25.6,-25.7;27,-23.7;29.4,-22.2;31.3,-22.4;32,-24.5;32,-26;31.3,-25.8;30.8,-26.8;32,-27.2;32.9,-26.9;32.5,-28.5;30.5,-31;27.5,-33.5;25.5,-34;22.5,-34.2;20,-34.8;18.4,-34.1;18.2,-32;17,-29.5",
Eswatini:"32,-26;31.3,-25.8;30.8,-26.8;32,-27.2",
Lesotho:"27,-29.6;28.5,-28.6;29.3,-29.5;28.2,-30.6",
Madagascar:"49.3,-12;50.4,-15.5;49.5,-17.5;47.5,-24.8;46,-25.5;44,-25;43.3,-22;44.4,-19.5;44,-17;46.5,-15.7;48.5,-13.5",
Mexico:"-117.1,32.5;-114.8,32.5;-111,31.3;-108.2,31.3;-108.2,31.8;-106.5,31.8;-104.5,29.6;-103.2,29;-102.5,29.8;-101,29.4;-99.5,27.5;-99,26.4;-97.2,26;-97.8,22.5;-95.5,18.8;-94,18.2;-91.5,18.5;-90.5,21;-87,21.5;-87.5,19;-88.3,18.4;-89.1,17.9;-91,17.8;-91.4,16.1;-92.2,14.5;-94.5,16.2;-96.5,15.7;-101,17.3;-105.5,20;-105.5,22;-109,25.6;-112,29;-113,31;-114.8,31.8;-113,28.5;-111,25;-109.5,23;-110.2,23;-112,25;-115,28;-116,31",
Guatemala:"-92.2,14.5;-91.4,16.1;-91,17.8;-89.1,17.9;-89.2,15.9;-88.3,15.7;-89.3,14.4;-90.1,13.8",
Belize:"-89.1,17.9;-88.3,18.4;-88.2,16.5;-89.2,15.9",
Honduras:"-89.2,15.9;-88,15.8;-86,16;-83.2,15;-84.7,14.7;-87.3,13;-87.8,13.4;-89.3,14.4;-88.3,15.7",
ElSalvador:"-90.1,13.8;-89.3,14.4;-87.8,13.4;-88.5,13.2",
Nicaragua:"-87.3,13;-84.7,14.7;-83.2,15;-83.6,11;-85.7,11",
CostaRica:"-85.7,11;-83.6,11;-82.6,9.5;-83,8.3;-85.6,9.9",
Panama:"-83,8.3;-82.6,9.5;-80,9.2;-77.3,8.7;-78,7.2;-80.5,7.3;-81.7,8",
Cuba:"-85,21.9;-82.5,23.1;-80,23;-77,21.7;-74.2,20.2;-77.7,19.9;-78.5,21;-82,22.4",
Jamaica:"-78.3,18.4;-76.3,18.1;-77,17.8",
Haiti:"-74.4,18.4;-72.8,19.9;-71.7,19.8;-71.7,18;-73,18.2",
DominicanRep:"-71.7,19.8;-69.9,19.6;-68.4,18.6;-70,18.3;-71.4,17.7;-71.7,18",
PuertoRico:"-67.2,18.5;-65.7,18.4;-65.8,18;-67.2,18",
Bahamas:"-78.2,26.7;-77,26.6;-77.5,26.9|-78,25;-77.5,24;-77.8,24.5",
Trinidad:"-61.8,10.7;-61,10.8;-61,10.1;-61.8,10.1",
Colombia:"-71.7,12.4;-71,11.5;-72.5,11;-72.5,8.5;-72,7;-70,7;-67.5,6.2;-67.8,3;-67,1.2;-69.8,1.1;-69.5,-1;-70,-4.3;-70.7,-3.8;-72,-2.4;-75.2,-0.1;-77.4,0.4;-78.9,1.4;-77.1,3.9;-77.5,7;-77.3,8.7;-75.5,10.7;-74,11.2",
Venezuela:"-71.7,12.4;-70,12;-68,10.6;-64,10.6;-62,10.7;-60.8,9.4;-60,8.5;-60.7,7.5;-60.7,5.2;-62.8,4;-64,4;-64.8,1.2;-66.8,1;-67,1.2;-67.8,3;-67.5,6.2;-70,7;-72,7;-72.5,8.5;-72.5,11;-71,11.5",
Guyana:"-60,8.5;-57.2,6;-57.9,4;-57.5,2;-59,1.3;-59.9,2.5;-59.8,4.5;-60.7,5.2;-60.7,7.5",
Suriname:"-57.2,6;-54,5.8;-54.4,2.4;-56,2;-57.5,2;-57.9,4",
FrGuiana:"-54,5.8;-52,4.7;-51.6,4.2;-52.8,2.3;-54.4,2.4",
Brazil:"-51.6,4.2;-50,1.7;-50,0;-48.3,-1;-44.5,-2.3;-40,-2.9;-37,-4.8;-35.2,-5.5;-34.8,-7.5;-37,-11;-39,-13;-39,-17.8;-41,-22;-44.5,-23;-48.5,-25.5;-48.6,-28;-50,-30;-53.4,-33.7;-53.7,-32.5;-57.6,-30.2;-55.8,-28.3;-53.7,-26.9;-54.6,-25.5;-54.3,-24;-55.8,-22.3;-58,-22;-58,-20;-57.5,-18;-58.3,-16.3;-60.2,-16.3;-60.5,-13.7;-65.3,-11.6;-65.4,-9.8;-69.5,-10.9;-70.5,-11;-70.7,-9.5;-73,-9.4;-74,-7.2;-73,-5;-70,-4.3;-69.5,-1;-69.8,1.1;-67,1.2;-66.8,1;-64.8,1.2;-64,4;-62.8,4;-60.7,5.2;-59.8,4.5;-59.9,2.5;-59,1.3;-57.5,2;-56,2;-54.4,2.4;-52.8,2.3",
Uruguay:"-53.4,-33.7;-53.7,-32.5;-57.6,-30.2;-58.2,-33;-58.4,-34;-56,-34.9;-54.9,-35",
Paraguay:"-54.3,-24;-54.6,-25.5;-55,-27.2;-58.6,-27.3;-57.5,-25.3;-60,-24;-62.6,-22.2;-61.8,-19.6;-58,-20;-58,-22;-55.8,-22.3",
Bolivia:"-69.5,-10.9;-65.4,-9.8;-65.3,-11.6;-60.5,-13.7;-60.2,-16.3;-58.3,-16.3;-57.5,-18;-58,-20;-61.8,-19.6;-62.6,-22.2;-66.3,-21.9;-67.2,-22.8;-68.3,-21;-68.5,-19;-69.5,-17.5;-69,-16;-69.4,-15;-68.7,-12.5",
Peru:"-80.3,-3.4;-81.3,-4.5;-79,-8;-76.3,-14;-70.4,-18.4;-69.5,-17.5;-69,-16;-69.4,-15;-68.7,-12.5;-69.5,-10.9;-70.5,-11;-70.7,-9.5;-73,-9.4;-74,-7.2;-73,-5;-70,-4.3;-70.7,-3.8;-72,-2.4;-75.2,-0.1;-75.6,-1.6;-77.7,-3;-78.5,-4.7;-80,-4.5",
Ecuador:"-80.3,-3.4;-80,-4.5;-78.5,-4.7;-77.7,-3;-75.6,-1.6;-75.2,-0.1;-77.4,0.4;-78.9,1.4;-80,0.8;-81,-1;-80,-2.5",
Chile:"-70.4,-18.4;-69.5,-17.5;-68.5,-19;-68.3,-21;-67.2,-22.8;-68.5,-24.5;-69.8,-30;-70.5,-34;-71,-38;-71.8,-42;-71.8,-45;-72.2,-49;-72.3,-51.7;-68.5,-52.3;-68.6,-55;-66.5,-55.2;-70,-55.5;-74.5,-52;-75.5,-47;-73.7,-41;-73.5,-37;-71.6,-33;-71.4,-29;-70.3,-22",
Argentina:"-66.3,-21.9;-62.6,-22.2;-60,-24;-57.5,-25.3;-58.6,-27.3;-55,-27.2;-54.6,-25.5;-53.7,-26.9;-55.8,-28.3;-57.6,-30.2;-58.2,-33;-58.4,-34;-57,-36.4;-57.6,-38.1;-62,-39;-62.2,-40.7;-65,-41;-63.7,-42.5;-65.3,-45;-67.5,-46;-65.8,-47.8;-69,-50.5;-68.5,-52.3;-72.3,-51.7;-72.2,-49;-71.8,-45;-71.8,-42;-71,-38;-70.5,-34;-69.8,-30;-68.5,-24.5;-67.2,-22.8|-68.5,-52.7;-65.2,-54.8;-68.6,-55",
Falkland:"-61,-52;-58,-51.3;-58.5,-52.3",
Kerguelen:"68.8,-49.2;70.5,-49.2;69.5,-49.7"
};
const svg=d3.select("#c");
const xMap=d3.scaleLinear().domain([-180,180]).range([10,1566]);
const yMap=d3.scaleLinear().domain([-60,85]).range([701.5,55.7]);
const color=d3.scaleThreshold().domain(binTicks.slice(1,-1)).range(binColors);
const geoPath=d3.geoPath(d3.geoTransform({point(lon,lat){this.stream.point(xMap(lon),yMap(lat));}}));
const closeRing=pts=>pts.concat([pts[0]]);
const toGeo=s=>({type:"MultiPolygon",coordinates:s.split("|").map(r=>[closeRing(r.split(";").map(p=>p.split(",").map(Number)))])});
svg.append("g").selectAll("path").data(countryNames.map((n,i)=>({n,v:countryValues[i]}))).join("path")
 .attr("d",d=>geoPath(toGeo(countryShapes[d.n])))
 .attr("fill",d=>d.v==null?noDataColor:color(d.v))
 .attr("stroke",d=>d.v==null?"#cfcfcf":"#d9d9d9").attr("stroke-width",0.35).attr("stroke-linejoin","round");
svg.append("text").attr("x",788).attr("y",40).attr("text-anchor","middle").attr("font-size",34).attr("font-weight",700).attr("fill","#000").text(titleText);
const barTop=741,barH=34;
const xBar=d3.scalePoint().domain(binTicks).range([33,1543]);
const bar=svg.append("g");
bar.selectAll("rect").data(binTicks.slice(0,-1)).join("rect")
 .attr("x",d=>xBar(d)).attr("y",barTop).attr("height",barH)
 .attr("width",(d,i)=>xBar(binTicks[i+1])-xBar(d)).attr("fill",d=>color(d));
bar.append("rect").attr("x",33).attr("y",barTop).attr("width",1510).attr("height",barH).attr("fill","none").attr("stroke","#000").attr("stroke-width",1);
const ax=svg.append("g").attr("transform",`translate(0,${barTop+barH})`).call(d3.axisBottom(xBar).tickSize(5).tickPadding(5));
ax.select(".domain").remove();
ax.selectAll("text").attr("font-size",15.5).attr("font-weight",300).attr("fill","#000").style("font-family",'"Noto Sans CJK KR"');
ax.selectAll("line").attr("stroke","#000");
svg.append("text").attr("x",788).attr("y",820).attr("text-anchor","middle").attr("font-size",19).attr("font-weight",300).attr("fill","#111").text(axisLabel);
svg.append("text").attr("x",790).attr("y",857).attr("text-anchor","middle").attr("font-size",14.6).attr("font-weight",300).attr("fill","#111").text(footText);
</script></body></html>
